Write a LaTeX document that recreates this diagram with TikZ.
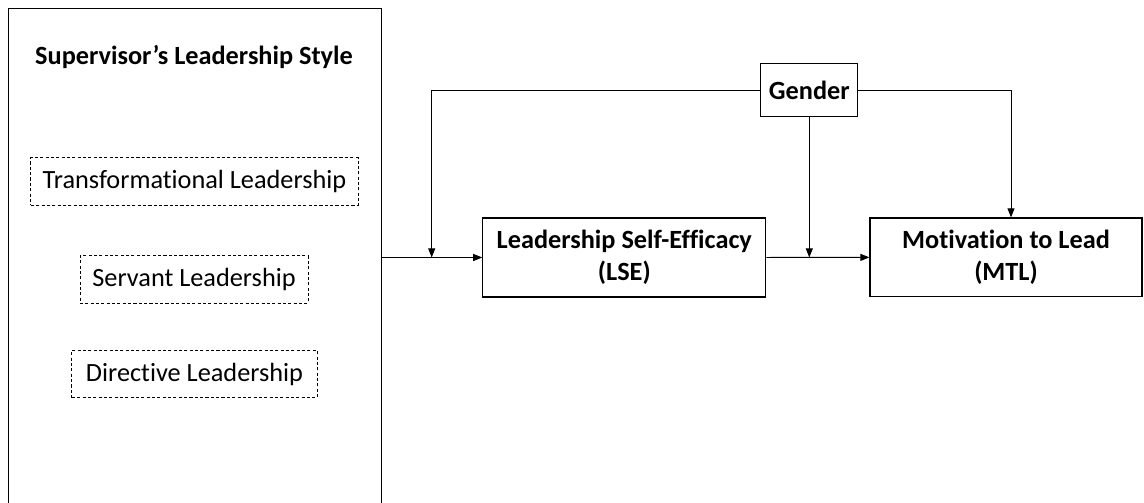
\documentclass[tikz,border=0pt]{standalone}
\usepackage{fontspec}
\setmainfont[Ligatures={NoCommon}]{Carlito}
\usetikzlibrary{arrows.meta}

\tikzstyle{outer} = [rectangle, draw, line width=0.8pt, minimum width=9.34cm,
                     minimum height=12.78cm]
\tikzstyle{style-box} = [rectangle, draw, dashed, dash pattern=on 2.2pt off 1.6pt,
                         line width=0.6pt, minimum height=1.18cm, font=\fontsize{18.7}{22.5}\selectfont]
\tikzstyle{var} = [rectangle, draw, line width=0.8pt, align=center,
                   font=\bfseries\fontsize{18.7}{23}\selectfont]
\tikzstyle{link} = [-{Triangle[length=6.5pt,width=5pt]}, line width=0.7pt]

\begin{document}
\begin{tikzpicture}[x=0.025cm, y=-0.025cm]
  \useasboundingbox (0,0) rectangle (1144,503);

  %% Leadership styles on the left
  \node (super) [outer] at (195,264.4) {};
  \node (title) [font=\bfseries\fontsize{18.7}{22.5}\selectfont] at (194,57) {Supervisor’s Leadership Style};
  \node (transf) [style-box, minimum width=8.18cm] at (194.5,181.5) {Transformational Leadership};
  \node (servant) [style-box, minimum width=5.7cm] at (194,279.5) {Servant Leadership};
  \node (direct) [style-box, minimum width=6.13cm] at (194.5,374) {Directive Leadership};

  %% Mediator, outcome and moderator
  \node (lse) [var, minimum width=7.07cm, minimum height=1.975cm] at (624.3,257.5)
    {Leadership Self-Efficacy\\ (LSE)};
  \node (mtl) [var, minimum width=6.8cm, minimum height=1.97cm] at (1006,257.4)
    {Motivation to Lead\\ (MTL)};
  \node (gender) [var, minimum width=2.42cm, minimum height=1.32cm] at (809.3,90.3) {Gender};

  \coordinate (m1) at (431.7,257.5);
  \coordinate (m2) at (809.3,257.5);

  \draw [link] (super.east |- lse.west) to (lse.west);
  \draw [link] (lse.east) to (mtl.west);
  \draw [link] (gender.west) -| (m1);
  \draw [link] (gender.south) to (m2);
  \draw [link] (gender.east) -| ([xshift=0.125cm]mtl.north);

\end{tikzpicture}
\end{document}
